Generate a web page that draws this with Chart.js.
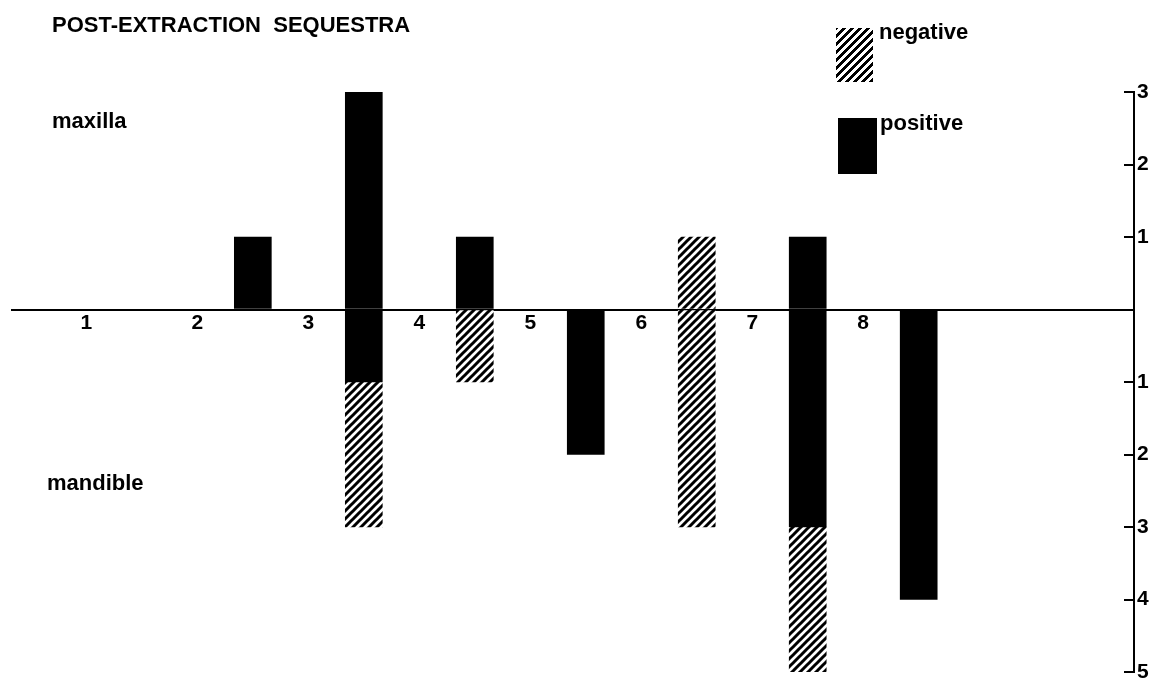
<!DOCTYPE html>
<html>
<head>
<meta charset="utf-8">
<title>Post-extraction sequestra</title>
<script src="https://cdn.jsdelivr.net/npm/chart.js@4"></script>
<style>
  body { margin: 0; background: #fff; }
  #wrap { position: relative; width: 1157px; height: 683px; font-family: "Liberation Sans", Arial, sans-serif; font-weight: bold; color: #000; }
  #wrap canvas { position: absolute; left: 0; top: 0; }
  .txt { position: absolute; font-size: 22px; line-height: 1; white-space: pre; }
  .swatch { position: absolute; }
  .hatch { background: repeating-linear-gradient(-45deg, #000 0 3px, #fff 3px 5.66px); }
</style>
</head>
<body>
<div id="wrap">
  <canvas id="grafica" width="1157" height="683"></canvas>
  <div class="txt" style="left:52px; top:14px;">POST-EXTRACTION  SEQUESTRA</div>
  <div class="txt" style="left:52px; top:110px;">maxilla</div>
  <div class="txt" style="left:47px; top:472px;">mandible</div>
  <div class="swatch hatch" style="left:836px; top:28px; width:37px; height:54px;"></div>
  <div class="txt" style="left:879px; top:21px;">negative</div>
  <div class="swatch" style="left:838px; top:118px; width:39px; height:56px; background:#000;"></div>
  <div class="txt" style="left:880px; top:112px;">positive</div>
</div>
<script>
// Datos: posiciones de las barras (entre los numeros 1..8)
const posiciones = [2.5, 3.5, 4.5, 5.5, 6.5, 7.5, 8.5];
const maxilaPositivo = [1, 3, 1, 0, 0, 1, 0];
const maxilaNegativo = [0, 0, 0, 0, 1, 0, 0];
const mandibulaPositivo = [0, 1, 0, 2, 0, 3, 4];
const mandibulaNegativo = [0, 2, 1, 0, 3, 2, 0];
const etiquetasX = [1, 2, 3, 4, 5, 6, 7, 8];
const etiquetasY = [3, 2, 1, 0, -1, -2, -3, -4, -5];

// Patron rayado para "negative"
function crearRayado() {
    const c = document.createElement('canvas');
    c.width = 8;
    c.height = 8;
    const g = c.getContext('2d');
    g.fillStyle = '#fff';
    g.fillRect(0, 0, 8, 8);
    g.strokeStyle = '#000';
    g.lineWidth = 3;
    g.beginPath();
    g.moveTo(-2, 10); g.lineTo(10, -2);
    g.moveTo(-2, 2); g.lineTo(2, -2);
    g.moveTo(6, 10); g.lineTo(10, 6);
    g.stroke();
    return g.createPattern(c, 'repeat');
}
const rayado = crearRayado();

function puntos(valores, signo) {
    return posiciones.map((p, i) => ({ x: p, y: valores[i] ? signo * valores[i] : null }));
}

const fuente = { family: '"Liberation Sans", Arial, sans-serif', size: 21, weight: 'bold' };

const config = {
    type: 'bar',
    data: {
        datasets: [
            { label: 'positive maxilla', data: puntos(maxilaPositivo, 1), backgroundColor: '#000' },
            { label: 'negative maxilla', data: puntos(maxilaNegativo, 1), backgroundColor: rayado },
            { label: 'positive mandible', data: puntos(mandibulaPositivo, -1), backgroundColor: '#000' },
            { label: 'negative mandible', data: puntos(mandibulaNegativo, -1), backgroundColor: rayado }
        ]
    },
    options: {
        responsive: false,
        animation: false,
        barThickness: 37,
        borderWidth: 0,
        layout: { padding: { left: 12, top: 92, bottom: 11, right: 0 } },
        plugins: { legend: { display: false }, tooltip: { enabled: false } },
        scales: {
            x: {
                type: 'linear',
                stacked: true,
                offset: false,
                min: 0.33,
                max: 10.44,
                position: { y: 0 },
                afterBuildTicks: (scale) => { scale.ticks = etiquetasX.map(v => ({ value: v })); },
                afterFit: (scale) => { scale.height = 0; scale.paddingLeft = 0; scale.paddingRight = 0; },
                grid: { display: false, drawTicks: false },
                border: { display: true, color: '#000', width: 2 },
                ticks: { color: '#000', font: fuente, padding: 1, maxRotation: 0, autoSkip: false }
            },
            y: {
                position: 'right',
                stacked: true,
                min: -5,
                max: 3,
                afterBuildTicks: (scale) => { scale.ticks = etiquetasY.map(v => ({ value: v })); },
                afterFit: (scale) => { scale.width = 23; scale.paddingTop = 0; scale.paddingBottom = 0; },
                grid: { drawOnChartArea: false, drawTicks: true, tickLength: -10, color: '#000', lineWidth: 2 },
                border: { display: true, color: '#000', width: 2 },
                ticks: {
                    color: '#000',
                    font: fuente,
                    padding: 13,
                    callback: (v) => v === 0 ? '' : Math.abs(v)
                }
            }
        }
    }
};

// Crear la grafica
var miGrafica = new Chart(document.getElementById('grafica'), config);
</script>
</body>
</html>
